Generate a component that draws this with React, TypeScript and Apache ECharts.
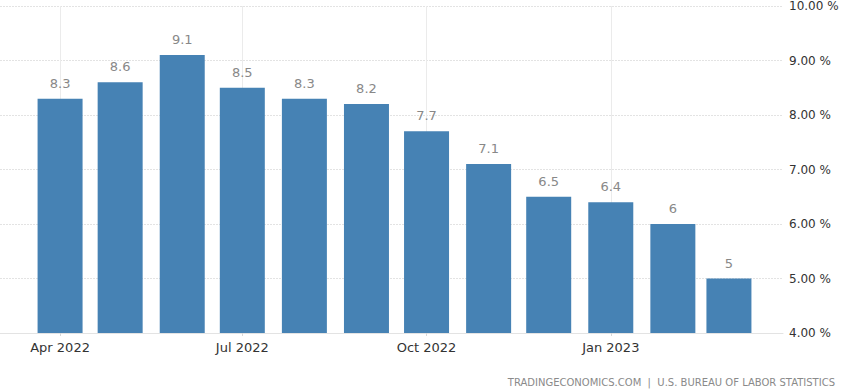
import React, { useEffect, useRef } from "react";
import * as echarts from "echarts";

const months = [
  "2022-04-01", "2022-05-01", "2022-06-01", "2022-07-01", "2022-08-01", "2022-09-01",
  "2022-10-01", "2022-11-01", "2022-12-01", "2023-01-01", "2023-02-01", "2023-03-01",
];
const values = [8.3, 8.6, 9.1, 8.5, 8.3, 8.2, 7.7, 7.1, 6.5, 6.4, 6, 5];
const quarterTicks = ["2022-04-01", "2022-07-01", "2022-10-01", "2023-01-01"];
const monthNames = ["Jan", "Feb", "Mar", "Apr", "May", "Jun", "Jul", "Aug", "Sep", "Oct", "Nov", "Dec"];
const sourceText = "TRADINGECONOMICS.COM  |  U.S. BUREAU OF LABOR STATISTICS";

const ts = (s: string) => {
  const [y, m, d] = s.split("-").map(Number);
  return Date.UTC(y, m - 1, d);
};

export default function App() {
  const ref = useRef<HTMLDivElement>(null);
  useEffect(() => {
    if (!ref.current) return;
    const chart = echarts.init(ref.current, undefined, { renderer: "svg" });
    const tickVals = quarterTicks.map(ts);
    chart.setOption({
      animation: false,
      grid: { left: 0, right: 82, top: 3, bottom: 59, containLabel: false },
      xAxis: {
        type: "value",
        min: ts("2022-03-02"),
        max: ts("2023-03-28"),
        axisLine: { show: true, onZero: false, lineStyle: { color: "#e3e3e3" } },
        axisTick: { show: true, customValues: tickVals, length: 3, lineStyle: { color: "#d8d8d8" } },
        axisLabel: {
          customValues: tickVals,
          color: "#333",
          fontSize: 13,
          fontFamily: "DejaVu Sans",
          margin: 8,
          formatter: (v: number) => {
            const d = new Date(v);
            return monthNames[d.getUTCMonth()] + " " + d.getUTCFullYear();
          },
        },
        splitLine: { show: true, lineStyle: { color: "#ebebeb", type: "solid" } },
      },
      yAxis: {
        type: "value",
        position: "right",
        min: 4,
        max: 10,
        interval: 1,
        axisLine: { show: false },
        axisTick: { show: false },
        axisLabel: {
          color: "#333",
          fontSize: 12,
          fontFamily: "DejaVu Sans",
          margin: 6,
          formatter: (v: number) => v.toFixed(2) + " %",
        },
        splitLine: { show: true, lineStyle: { color: "#e3e3e3", type: [2, 1] } },
      },
      series: [
        {
          type: "bar",
          barWidth: 45,
          data: months.map((m, i) => [ts(m), values[i]]),
          itemStyle: { color: "#4682b4" },
          label: {
            show: true,
            position: "top",
            distance: 9,
            color: "#888",
            fontSize: 13,
            fontFamily: "DejaVu Sans",
            formatter: (p: any) => String(p.value[1]),
          },
        },
      ],
      graphic: [
        {
          type: "text",
          right: 30,
          top: 377,
          style: {
            text: sourceText,
            fill: "#8a8a8a",
            font: "10px 'DejaVu Sans'",
          },
        },
      ],
    });
    return () => chart.dispose();
  }, []);
  return (
    <div
      ref={ref}
      style={{ position: "fixed", left: 0, top: 0, width: 865, height: 392, background: "#fff" }}
    />
  );
}
